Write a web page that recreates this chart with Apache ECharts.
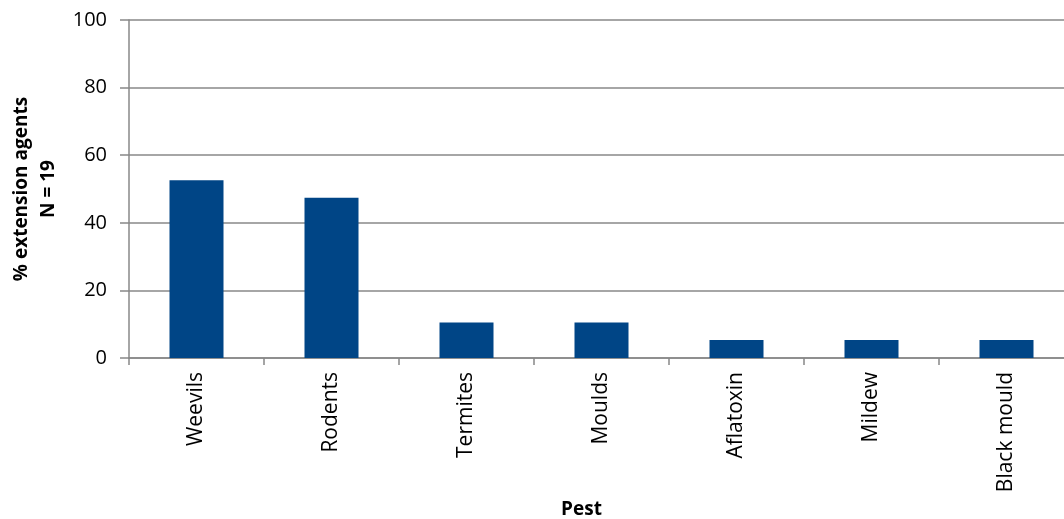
<!DOCTYPE html>
<html>
<head>
<meta charset="utf-8">
<script src="https://cdn.jsdelivr.net/npm/echarts@6/dist/echarts.min.js"></script>
<style>
  html, body { margin: 0; padding: 0; background: #fff; }
  #chart { width: 1064px; height: 519px; }
</style>
</head>
<body>
<div id="chart"></div>
<script>
// Pests named by extension agents (N = 19), as % of respondents
const categories = ['Weevils', 'Rodents', 'Termites', 'Moulds', 'Aflatoxin', 'Mildew', 'Black mould'];
const percentages = [52.6, 47.4, 10.5, 10.5, 5.3, 5.3, 5.3];
const yTicks = [0, 20, 40, 60, 80, 100];

const font = '"Open Sans", "Liberation Sans", sans-serif';
const chart = echarts.init(document.getElementById('chart'), null, { renderer: 'canvas' });

chart.setOption({
  animation: false,
  grid: { left: 129, right: -10, top: 20, bottom: 161, containLabel: false, outerBoundsMode: 'none' },
  xAxis: {
    type: 'category',
    data: categories,
    name: 'Pest',
    nameLocation: 'middle',
    nameGap: 131,
    nameTextStyle: { fontFamily: font, fontWeight: 'bold', fontSize: 19, color: '#000', padding: [0, 40, 0, 0] },
    axisLine: { lineStyle: { color: '#888', width: 1.5 } },
    axisTick: { show: true, length: 7, alignWithLabel: false, lineStyle: { color: '#888', width: 1.5 } },
    axisLabel: { rotate: 90, margin: 14, fontFamily: font, fontSize: 21, color: '#000' }
  },
  yAxis: {
    type: 'value',
    min: yTicks[0],
    max: yTicks[yTicks.length - 1],
    interval: 20,
    name: '% extension agents\nN = 19',
    nameLocation: 'middle',
    nameGap: 66,
    nameRotate: 90,
    nameTextStyle: { fontFamily: font, fontWeight: 'bold', fontSize: 19, color: '#000', lineHeight: 27 },
    axisLine: { show: true, lineStyle: { color: '#888', width: 1.5 } },
    axisTick: { show: true, length: 9, inside: false, lineStyle: { color: '#888', width: 1.5 } },
    axisLabel: { margin: 22, fontFamily: font, fontSize: 20, color: '#000' },
    splitLine: { show: true, lineStyle: { color: '#888', width: 1.5 } }
  },
  series: [{
    type: 'bar',
    data: percentages,
    barWidth: '40%',
    itemStyle: { color: '#004586' }
  }]
});
</script>
</body>
</html>
